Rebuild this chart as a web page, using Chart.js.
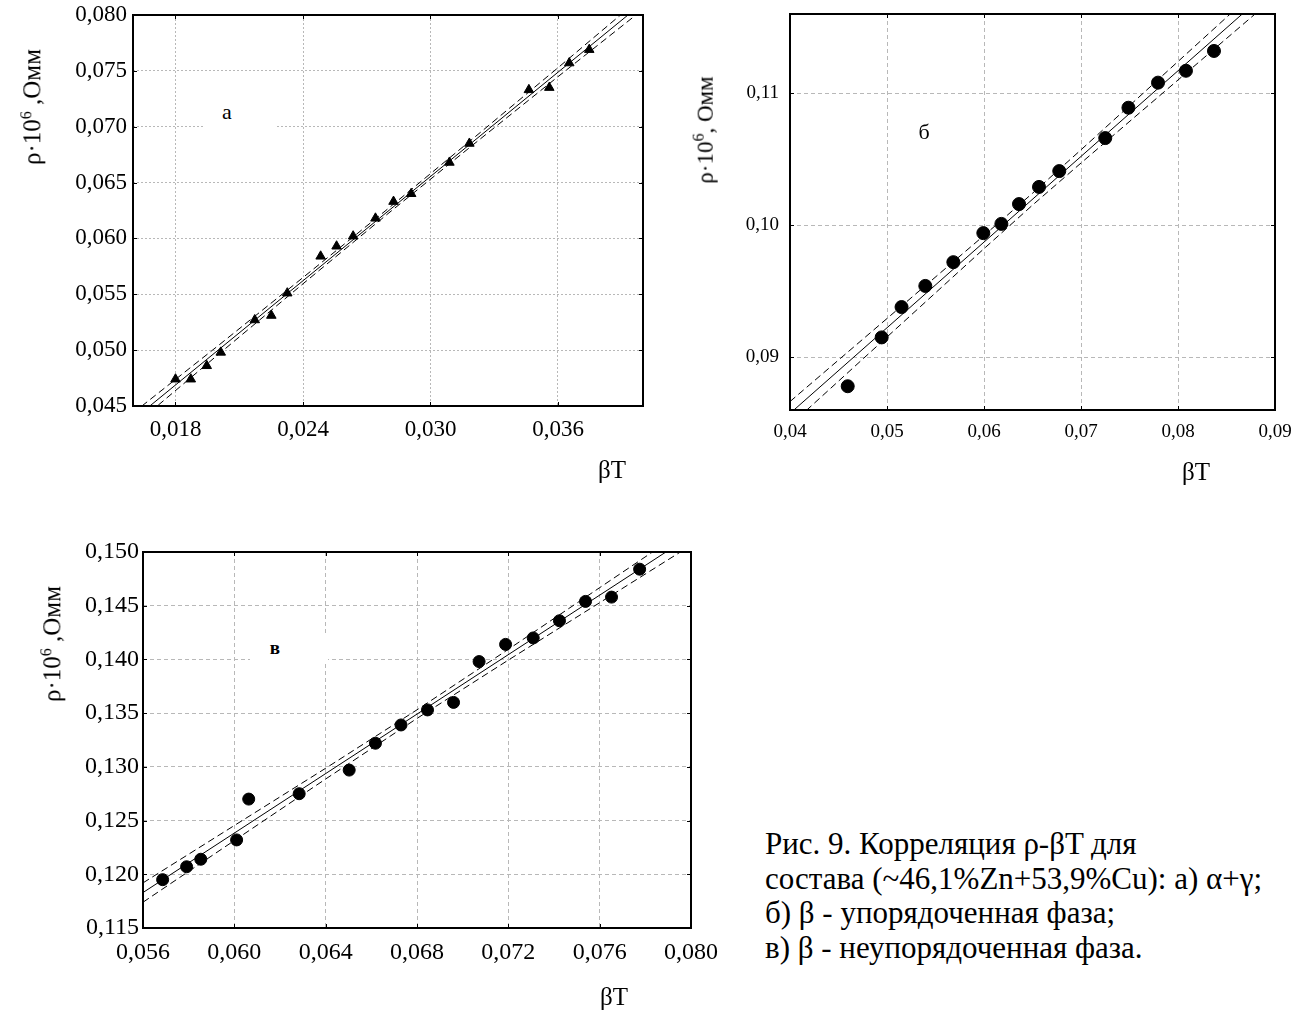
<!DOCTYPE html>
<html lang="ru">
<head>
    <meta charset="UTF-8">
    <title>Корреляция ρ-βT</title>
    <style>
        body { margin: 0; background: #fff; }
        #page { position: relative; width: 1309px; height: 1010px; font-family: 'Liberation Serif', 'Times New Roman', serif; color: #000; }
        canvas { position: absolute; }
        .ytitle { position: absolute; white-space: nowrap; transform: translate(-50%, -50%) rotate(-90deg); font-size: 25px; }
        .ytitle sup { font-size: 16px; }
        .xtitle { position: absolute; font-size: 25px; transform: translate(-50%, -50%); }
        .mask { position: absolute; background: #fff; }
        .tag { position: absolute; font-size: 22px; transform: translate(-50%, -50%); }
        #caption { position: absolute; left: 765px; top: 827px; font-size: 31px; line-height: 34.5px; white-space: nowrap; }
    </style>
</head>
<body>
    <script src="https://cdn.jsdelivr.net/npm/chart.js"></script>
    <div id="page">
        <canvas id="chA" width="680" height="490" style="left:0;top:0"></canvas>
        <canvas id="chB" width="619" height="490" style="left:690px;top:0"></canvas>
        <canvas id="chC" width="740" height="490" style="left:0;top:520px"></canvas>

        <div class="ytitle" style="left:32px;top:107px">ρ·10<sup>6</sup> ,Омм</div>
        <div class="ytitle" style="left:704px;top:130px;font-size:23px">ρ·10<sup>6</sup>, Омм</div>
        <div class="ytitle" style="left:52px;top:644px">ρ·10<sup>6</sup> ,Омм</div>

        <div class="xtitle" style="left:612px;top:470px">βT</div>
        <div class="xtitle" style="left:1196px;top:472px">βT</div>
        <div class="xtitle" style="left:614px;top:997px">βT</div>

        <div class="mask" style="left:203px;top:97px;width:72px;height:30px"></div>
        <div class="mask" style="left:250px;top:634px;width:78px;height:30px"></div>
        <div class="tag" style="left:227px;top:112px">а</div>
        <div class="tag" style="left:924px;top:132px">б</div>
        <div class="tag" style="left:275px;top:648px;font-size:19px;font-weight:bold">в</div>

        <div id="caption">Рис. 9. Корреляция ρ-βT для<br>состава (~46,1%Zn+53,9%Cu): а) α+γ;<br>б) β - упорядоченная фаза;<br>в) β - неупорядоченная фаза.</div>
    </div>
    <script>
        // а) α+γ
        var xA = [0.0180, 0.01872, 0.01947, 0.02013, 0.02173, 0.02251, 0.02326, 0.02483, 0.02558, 0.02636,
                  0.02741, 0.02826, 0.02909, 0.03089, 0.03183, 0.03463, 0.03559, 0.03653, 0.03747];
        var yA = [0.0474, 0.0474, 0.0486, 0.0498, 0.0527, 0.0531, 0.0551, 0.0584, 0.0593, 0.0602,
                  0.0618, 0.0633, 0.0640, 0.0668, 0.0685, 0.0733, 0.0735, 0.0757, 0.0769];
        var fitAx = [0.016, 0.040];
        var fitAy = [0.04377, 0.08110];
        var bandAx = [0.016, 0.020, 0.024, 0.028, 0.032, 0.036, 0.040];
        var bandAup = [0.04437, 0.05039, 0.05650, 0.06266, 0.06894, 0.07528, 0.08170];
        var bandAlo = [0.04317, 0.04959, 0.05594, 0.06222, 0.06838, 0.07448, 0.08050];
        var xTicksA = [0.018, 0.024, 0.030, 0.036];
        var yTicksA = [0.045, 0.050, 0.055, 0.060, 0.065, 0.070, 0.075, 0.080];

        // б) β - упорядоченная фаза
        var xB = [0.04595, 0.04945, 0.0515, 0.05395, 0.05684, 0.05993, 0.06179, 0.06361,
                  0.06567, 0.06776, 0.0725, 0.07489, 0.07794, 0.08082, 0.08371];
        var yB = [0.0878, 0.0915, 0.0938, 0.0954, 0.0972, 0.0994, 0.1001, 0.1016,
                  0.1029, 0.1041, 0.1066, 0.1089, 0.1108, 0.1117, 0.1132];
        var fitBx = [0.040, 0.090];
        var fitBy = [0.08574, 0.11819];
        var bandBx = [0.040, 0.050, 0.060, 0.065, 0.070, 0.080, 0.090];
        var bandBup = [0.08664, 0.09293, 0.09922, 0.10242, 0.10571, 0.11240, 0.11909];
        var bandBlo = [0.08484, 0.09153, 0.09822, 0.10152, 0.10471, 0.11100, 0.11729];
        var xTicksB = [0.04, 0.05, 0.06, 0.07, 0.08, 0.09];
        var yTicksB = [0.09, 0.10, 0.11];

        // в) β - неупорядоченная фаза
        var xC = [0.05686, 0.05791, 0.05853, 0.0601, 0.06063, 0.06284, 0.06503, 0.06618, 0.0673,
                  0.06846, 0.0696, 0.07072, 0.07188, 0.07309, 0.07424, 0.07538, 0.07652, 0.07775];
        var yC = [0.1195, 0.1207, 0.1214, 0.1232, 0.1270, 0.1275, 0.1297, 0.1322, 0.1339,
                  0.1353, 0.1360, 0.1398, 0.1414, 0.1420, 0.1436, 0.1454, 0.1458, 0.1484];
        var fitCx = [0.056, 0.080];
        var fitCy = [0.1183, 0.15152];
        var bandCx = [0.056, 0.060, 0.064, 0.068, 0.072, 0.076, 0.080];
        var bandCup = [0.1192, 0.12454, 0.12987, 0.13531, 0.14094, 0.14668, 0.15242];
        var bandClo = [0.1174, 0.12314, 0.12887, 0.13451, 0.13994, 0.14528, 0.15062];
        var xTicksC = [0.056, 0.060, 0.064, 0.068, 0.072, 0.076, 0.080];
        var yTicksC = [0.115, 0.120, 0.125, 0.130, 0.135, 0.140, 0.145, 0.150];

        function pairs(xs, ys) {
            return xs.map(function (x, i) { return { x: x, y: ys[i] }; });
        }

        function comma(digits) {
            return function (value) { return value.toFixed(digits).replace('.', ','); };
        }

        // black frame round the plot area plus small inward tick marks
        var framePlugin = {
            id: 'frame',
            afterDraw: function (chart) {
                var a = chart.chartArea, ctx = chart.ctx;
                var sx = chart.scales.x, sy = chart.scales.y;
                ctx.save();
                ctx.strokeStyle = '#000';
                ctx.lineWidth = 1;
                ctx.beginPath();
                sx.ticks.forEach(function (t) {
                    var px = Math.round(sx.getPixelForValue(t.value)) + 0.5;
                    ctx.moveTo(px, a.top); ctx.lineTo(px, a.top + 4);
                    ctx.moveTo(px, a.bottom); ctx.lineTo(px, a.bottom - 4);
                });
                sy.ticks.forEach(function (t) {
                    var py = Math.round(sy.getPixelForValue(t.value)) + 0.5;
                    ctx.moveTo(a.left, py); ctx.lineTo(a.left + 4, py);
                    ctx.moveTo(a.right, py); ctx.lineTo(a.right - 4, py);
                });
                ctx.stroke();
                ctx.lineWidth = 2;
                ctx.strokeRect(a.left, a.top, a.right - a.left, a.bottom - a.top);
                ctx.restore();
            }
        };

        function makeChart(id, s) {
            var pts = {
                type: 'scatter',
                data: pairs(s.x, s.y),
                pointStyle: s.marker,
                pointRadius: s.radius,
                pointBackgroundColor: '#000',
                pointBorderColor: '#000',
                pointBorderWidth: 1,
                showLine: false
            };
            var line = function (xs, ys, dash) {
                return {
                    type: 'scatter',
                    data: pairs(xs, ys),
                    showLine: true,
                    borderColor: '#000',
                    borderWidth: 1,
                    borderDash: dash,
                    pointRadius: 0,
                    clip: 0
                };
            };
            var tickFont = { family: "'Liberation Serif', 'Times New Roman', serif", size: s.fontSize };

            return new Chart(document.getElementById(id).getContext('2d'), {
                type: 'scatter',
                data: {
                    datasets: [
                        line(s.bandX, s.bandUp, [7, 4]),
                        line(s.bandX, s.bandLo, [7, 4]),
                        line(s.fitX, s.fitY, []),
                        pts
                    ]
                },
                options: {
                    responsive: false,
                    animation: false,
                    layout: { padding: s.padding },
                    plugins: { legend: { display: false }, tooltip: { enabled: false } },
                    scales: {
                        x: {
                            type: 'linear',
                            min: s.xMin, max: s.xMax,
                            afterBuildTicks: function (scale) { scale.ticks = s.xTicks.map(function (v) { return { value: v }; }); },
                            afterFit: function (scale) {
                                scale.height = 40;
                                scale.paddingLeft = 0;
                                scale.paddingRight = 0;
                            },
                            ticks: { callback: comma(s.xDigits), color: '#000', font: tickFont, padding: s.xPad, maxRotation: 0, autoSkip: false },
                            grid: { color: '#b8b8b8', lineWidth: 1, drawTicks: false },
                            border: { display: false, dash: s.gridDash }
                        },
                        y: {
                            type: 'linear',
                            min: s.yMin, max: s.yMax,
                            afterBuildTicks: function (scale) { scale.ticks = s.yTicks.map(function (v) { return { value: v }; }); },
                            afterFit: function (scale) {
                                scale.width = s.yWidth;
                                scale.paddingTop = 0;
                                scale.paddingBottom = 0;
                            },
                            ticks: { callback: comma(s.yDigits), color: '#000', font: tickFont, padding: s.yPad, autoSkip: false },
                            grid: { color: '#b8b8b8', lineWidth: 1, drawTicks: false },
                            border: { display: false, dash: s.gridDash }
                        }
                    }
                },
                plugins: [framePlugin]
            });
        }

        window.onload = function () {
            makeChart('chA', {
                x: xA, y: yA, marker: 'triangle', radius: 5.5,
                fitX: fitAx, fitY: fitAy, bandX: bandAx, bandUp: bandAup, bandLo: bandAlo,
                xMin: 0.016, xMax: 0.040, yMin: 0.045, yMax: 0.080,
                xTicks: xTicksA, yTicks: yTicksA, xDigits: 3, yDigits: 3,
                fontSize: 23, xPad: 10, yPad: 6, yWidth: 133, gridDash: [2, 2],
                padding: { left: 0, top: 15, right: 37, bottom: 44 }
            });
            makeChart('chB', {
                x: xB, y: yB, marker: 'circle', radius: 6.5,
                fitX: fitBx, fitY: fitBy, bandX: bandBx, bandUp: bandBup, bandLo: bandBlo,
                xMin: 0.040, xMax: 0.090, yMin: 0.086, yMax: 0.116,
                xTicks: xTicksB, yTicks: yTicksB, xDigits: 2, yDigits: 2,
                fontSize: 19, xPad: 11, yPad: 11, yWidth: 100, gridDash: [4, 3],
                padding: { left: 0, top: 14, right: 34, bottom: 40 }
            });
            makeChart('chC', {
                x: xC, y: yC, marker: 'circle', radius: 6,
                fitX: fitCx, fitY: fitCy, bandX: bandCx, bandUp: bandCup, bandLo: bandClo,
                xMin: 0.056, xMax: 0.080, yMin: 0.115, yMax: 0.150,
                xTicks: xTicksC, yTicks: yTicksC, xDigits: 3, yDigits: 3,
                fontSize: 24, xPad: 10, yPad: 4, yWidth: 143, gridDash: [4, 3],
                padding: { left: 0, top: 32, right: 49, bottom: 42 }
            });
        };
    </script>
</body>
</html>
